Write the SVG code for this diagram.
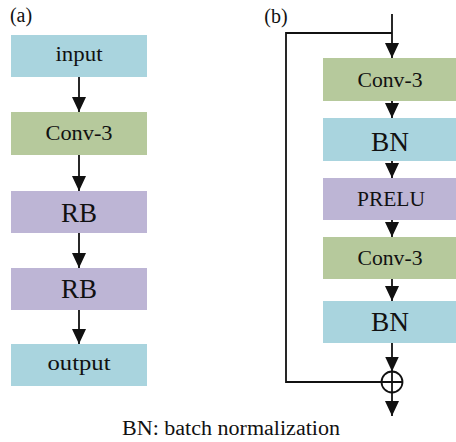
<svg xmlns="http://www.w3.org/2000/svg" width="456" height="442" viewBox="0 0 456 442">
<style>
.blue{fill:#a9d4de}
.green{fill:#b6c99c}
.purple{fill:#bdb5d5}
text{font-family:"Liberation Serif","Times New Roman",serif;fill:#111;text-anchor:middle}
.s{font-size:22px}
.l{font-size:28px}
.ln{stroke:#111;stroke-width:1.8;fill:none}
</style>
<defs>
<marker id="ah" viewBox="0 0 15 14" refX="15" refY="7" markerWidth="15" markerHeight="14" markerUnits="userSpaceOnUse" orient="auto">
<path d="M0,0 L15,7 L0,14 z" fill="#111"/>
</marker>
</defs>
<rect width="456" height="442" fill="#fff"/>
<text x="21" y="22" style="font-size:20px">(a)</text>
<text x="276" y="23" style="font-size:20px">(b)</text>

<g id="a-input"><rect class="blue" x="11" y="35" width="136" height="42"/><text class="s" x="79" y="61" textLength="47" lengthAdjust="spacingAndGlyphs">input</text></g>
<g id="a-conv"><rect class="green" x="11" y="112" width="136" height="43"/><text class="s" x="79" y="140" textLength="67" lengthAdjust="spacingAndGlyphs">Conv-3</text></g>
<g id="a-rb1"><rect class="purple" x="11" y="191" width="136" height="42"/><text class="l" x="79" y="222" textLength="36" lengthAdjust="spacingAndGlyphs">RB</text></g>
<g id="a-rb2"><rect class="purple" x="11" y="268" width="136" height="42"/><text class="l" x="79" y="298" textLength="36" lengthAdjust="spacingAndGlyphs">RB</text></g>
<g id="a-output"><rect class="blue" x="11" y="344" width="136" height="42"/><text class="s" x="79" y="370" textLength="63" lengthAdjust="spacingAndGlyphs">output</text></g>

<g id="b-conv1"><rect class="green" x="323" y="58" width="133" height="43"/><text class="s" x="390" y="87" textLength="65" lengthAdjust="spacingAndGlyphs">Conv-3</text></g>
<g id="b-bn1"><rect class="blue" x="323" y="118" width="133" height="43"/><text class="l" x="390" y="151" textLength="38" lengthAdjust="spacingAndGlyphs">BN</text></g>
<g id="b-prelu"><rect class="purple" x="323" y="178" width="133" height="42"/><text x="391" y="206" style="font-size:21px" textLength="68" lengthAdjust="spacingAndGlyphs">PRELU</text></g>
<g id="b-conv2"><rect class="green" x="323" y="237" width="133" height="42"/><text class="s" x="390" y="265" textLength="65" lengthAdjust="spacingAndGlyphs">Conv-3</text></g>
<g id="b-bn2"><rect class="blue" x="323" y="301" width="133" height="42"/><text class="l" x="390" y="331" textLength="38" lengthAdjust="spacingAndGlyphs">BN</text></g>
<g id="b-sum"><circle cx="392" cy="382" r="10.5" class="ln"/><path d="M381.5,382 H402.5 M392,371.5 V392.5" class="ln"/></g>

<g id="connectors">
<path class="ln" d="M79,77 V112" marker-end="url(#ah)"/>
<path class="ln" d="M79,155 V191" marker-end="url(#ah)"/>
<path class="ln" d="M79,233 V268" marker-end="url(#ah)"/>
<path class="ln" d="M79,310 V344" marker-end="url(#ah)"/>
<path class="ln" d="M392,14 V58" marker-end="url(#ah)"/>
<path class="ln" d="M392,101 V118" marker-end="url(#ah)"/>
<path class="ln" d="M392,161 V178" marker-end="url(#ah)"/>
<path class="ln" d="M392,220 V237" marker-end="url(#ah)"/>
<path class="ln" d="M392,279 V301" marker-end="url(#ah)"/>
<path class="ln" d="M392,343 V371.5" marker-end="url(#ah)"/>
<path class="ln" d="M392,392.5 V416" marker-end="url(#ah)"/>
<path class="ln" d="M392,33 H286 V382 H381.5"/>
</g>

<text x="231" y="435" style="font-size:20px" textLength="218" lengthAdjust="spacingAndGlyphs">BN: batch normalization</text>
</svg>
